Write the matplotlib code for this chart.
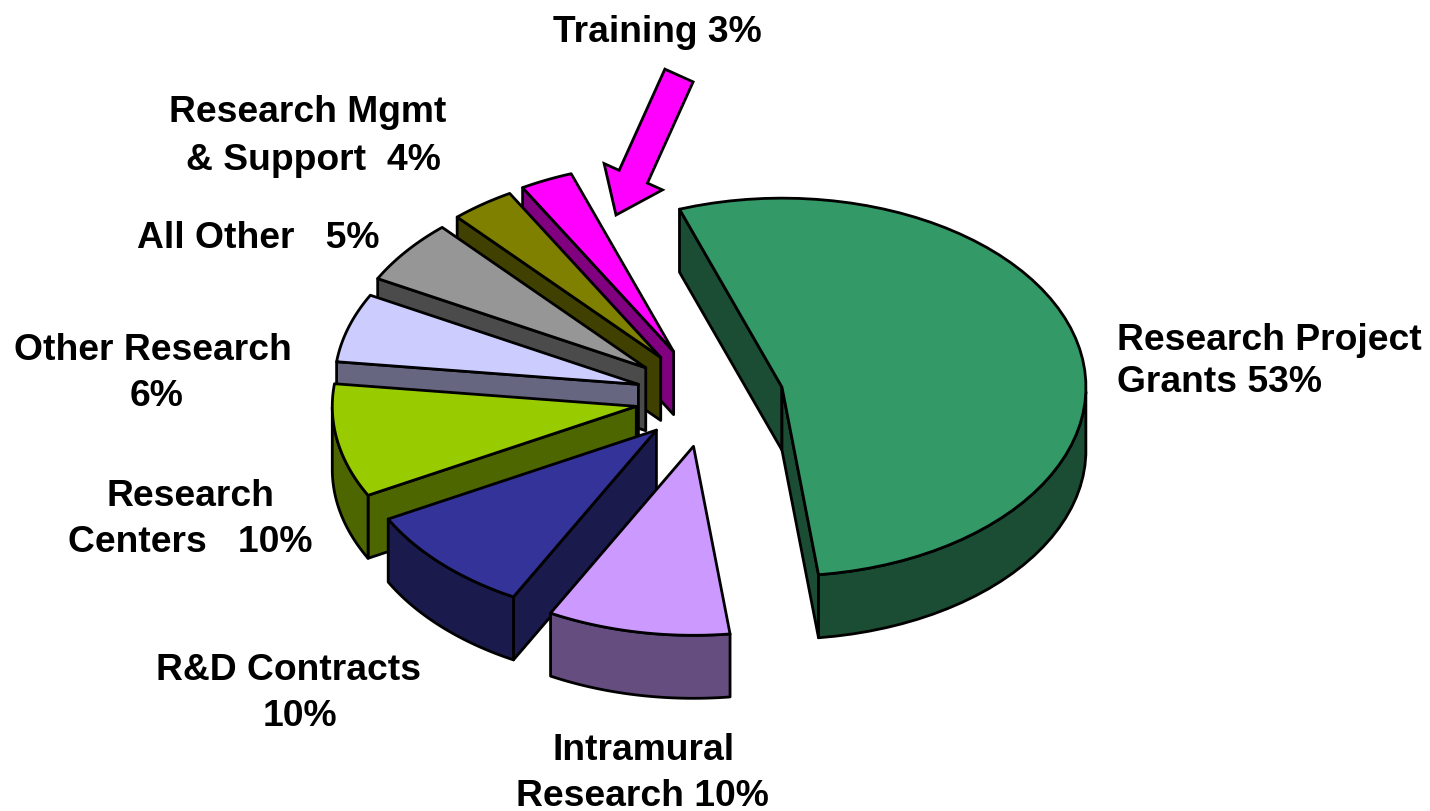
import numpy as np
import matplotlib
matplotlib.use('Agg')
import matplotlib.pyplot as plt
from matplotlib.colors import to_rgb
from matplotlib.patches import FancyArrow, Polygon

plt.rcParams['font.family'] = ['Liberation Sans', 'DejaVu Sans']

# clockwise from the top left, shares
names = ['Research Project Grants', 'Intramural Research', 'R&D Contracts', 'Research Centers',
         'Other Research', 'All Other', 'Research Mgmt & Support', 'Training']
shares = [53.5, 9.7, 9.4, 9.7, 5.9, 5.5, 3.4, 2.8]
explode = [0.25, 0.26, 0.24, 0.24, 0.24, 0.26, 0.265, 0.27]
colors = ['#339966', '#CC99FF', '#333399', '#99CC00', '#CCCCFF', '#969696', '#808000', '#FF00FF']
draw_order = [0, 7, 6, 5, 4, 3, 2, 1]

label_lines = ['Training 3%', 'Research Mgmt', '& Support  4%', 'All Other   5%', 'Other Research', '6%',
               'Research', 'Centers   10%', 'R&D Contracts', '10%', 'Intramural', 'Research 10%']
label_x = [657, 308, 313, 258, 153, 157, 190, 190, 288, 300, 644, 642]
label_y = [32, 112, 160, 239, 350, 396, 497, 543, 671, 717, 751, 796]
right_lines = ['Research Project', 'Grants 53%']
right_y = [341, 383]

CX, CY = 708, 398
RX, RY = 304, 189
DEPTH = 63
START = 109.7
LW = 2.0


def darker(c):
    return tuple(v * 0.5 for v in to_rgb(c))


def draw_wedge(ax, a1, a2, ex, color):
    mid = np.radians((a1 + a2) / 2)
    x0 = CX + ex * RX * np.cos(mid)
    y0 = CY - ex * RY * np.sin(mid)
    t = np.radians(np.linspace(a1, a2, 60))
    arc_x = x0 + RX * np.cos(t)
    arc_y = y0 - RY * np.sin(t)
    dark = darker(color)
    style = dict(edgecolor='black', linewidth=LW, joinstyle='round')
    # only the walls that face the viewer, the others sit behind the top
    if np.cos(t[0]) < 0:
        ax.add_patch(Polygon([(x0, y0), (arc_x[0], arc_y[0]), (arc_x[0], arc_y[0] + DEPTH), (x0, y0 + DEPTH)],
                             facecolor=dark, **style))
    if np.cos(t[-1]) > 0:
        ax.add_patch(Polygon([(x0, y0), (arc_x[-1], arc_y[-1]), (arc_x[-1], arc_y[-1] + DEPTH), (x0, y0 + DEPTH)],
                             facecolor=dark, **style))
    front = np.sin(t) <= 0
    if front.any():
        wall = np.r_[np.c_[arc_x[front], arc_y[front]], np.c_[arc_x[front], arc_y[front] + DEPTH][::-1]]
        ax.add_patch(Polygon(wall, facecolor=dark, **style))
    top = np.r_[[[x0, y0]], np.c_[arc_x, arc_y]]
    ax.add_patch(Polygon(top, facecolor=color, **style))


fig = plt.figure(figsize=(14.3, 8.11), dpi=100)
ax = fig.add_axes([0, 0, 1, 1])
ax.set_xlim(0, 1430)
ax.set_ylim(811, 0)
ax.axis('off')

sweep = np.array(shares) / sum(shares) * 360
ends = START - np.cumsum(sweep)
starts = ends + sweep
for i in draw_order:
    draw_wedge(ax, starts[i], ends[i], explode[i], colors[i])

# arrow from the Training label down to its slice
ax.add_patch(FancyArrow(679, 75.5, -63, 139.5, width=31, head_width=64, head_length=42,
                        length_includes_head=True, facecolor='#FF00FF', edgecolor='black',
                        linewidth=LW))

for s, x, y in zip(label_lines, label_x, label_y):
    ax.text(x, y, s, ha='center', va='center', fontsize=26.8, fontweight='bold')
for s, y in zip(right_lines, right_y):
    ax.text(1117, y, s, ha='left', va='center', fontsize=26.8, fontweight='bold')

fig.savefig('out.png', dpi=100)
